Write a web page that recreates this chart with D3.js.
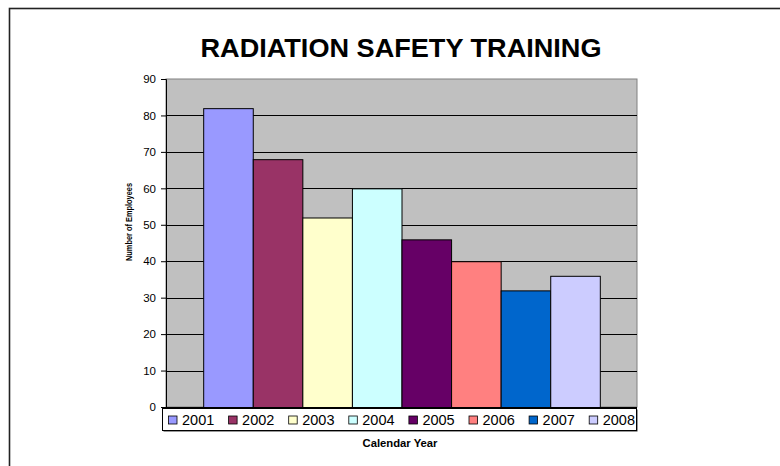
<!DOCTYPE html>
<html><head><meta charset="utf-8">
<script src="https://cdn.jsdelivr.net/npm/d3@7"></script>
<style>body{margin:0;background:#fff}svg{display:block}text{font-family:"Liberation Sans",Arial,sans-serif}</style>
</head><body>
<script>
const title = "RADIATION SAFETY TRAINING";
const years = ["2001","2002","2003","2004","2005","2006","2007","2008"];
const values = [82, 68, 52, 60, 46, 40, 32, 36];
const colors = ["#9999FF","#993366","#FFFFCC","#CCFFFF","#660066","#FF8080","#0066CC","#CCCCFF"];
const yTicks = [0,10,20,30,40,50,60,70,80,90];
const xTitle = "Calendar Year";
const yTitle = "Number of Employees";

const W = 780, H = 466;
const plot = {l:166, r:637, t:79, b:407};
const svg = d3.select("body").append("svg").attr("width", W).attr("height", H);

// outer frame
svg.append("rect").attr("x",9.5).attr("y",8.5).attr("width",900).attr("height",600)
  .attr("fill","none").attr("stroke","#222").attr("stroke-width",1.6);

// title
svg.append("text").attr("x",401).attr("y",57).attr("text-anchor","middle")
  .attr("font-size",26).attr("font-weight","bold")
  .attr("textLength",401).attr("lengthAdjust","spacingAndGlyphs").text(title);

const y = d3.scaleLinear().domain([0,90]).range([plot.b, plot.t]);
const x0 = d3.scaleBand().domain(["all"]).range([plot.l, plot.r]).paddingInner(0).paddingOuter(0.09375);
const x1 = d3.scaleBand().domain(years).range([0, x0.bandwidth()]).padding(0);

// plot area
svg.append("rect").attr("x",plot.l).attr("y",plot.t).attr("width",plot.r-plot.l).attr("height",plot.b-plot.t)
  .attr("fill","#C0C0C0").attr("stroke","#808080").attr("stroke-width",1);

// gridlines
svg.append("g").selectAll("line").data(yTicks.filter(d=>d>0 && d<90)).join("line")
  .attr("x1",plot.l).attr("x2",plot.r).attr("y1",d=>Math.round(y(d))+0.5).attr("y2",d=>Math.round(y(d))+0.5)
  .attr("stroke","#000").attr("stroke-width",1);

// bars
svg.append("g").selectAll("rect").data(years).join("rect")
  .attr("x",(d)=>x0("all")+x1(d)+0.5)
  .attr("y",(d,i)=>y(values[i])+0.5)
  .attr("width",x1.bandwidth())
  .attr("height",(d,i)=>plot.b - y(values[i]))
  .attr("fill",(d,i)=>colors[i]).attr("stroke","#000").attr("stroke-width",1);

// y axis
const yAxis = d3.axisLeft(y).tickValues(yTicks).tickSize(5).tickPadding(5);
const gy = svg.append("g").attr("transform",`translate(${plot.l},0)`).call(yAxis);
gy.select(".domain").attr("stroke","#000");
gy.selectAll(".tick line").attr("stroke","#000");
gy.selectAll("text").attr("font-size",11.5).attr("fill","#000").attr("font-family","'Liberation Sans',Arial,sans-serif");

// x axis baseline
svg.append("line").attr("x1",plot.l).attr("x2",plot.r).attr("y1",plot.b+0.5).attr("y2",plot.b+0.5).attr("stroke","#000");

// y title
svg.append("text").attr("transform",`translate(132,222) rotate(-90)`).attr("text-anchor","middle")
  .attr("font-size",9.5).attr("font-weight","bold")
  .attr("textLength",78).attr("lengthAdjust","spacingAndGlyphs").text(yTitle);

// legend
const lg = svg.append("g");
const lx = 162, ly = 408, lw = 474, lh = 22;
lg.append("rect").attr("x",lx+1.5).attr("y",ly+1.5).attr("width",lw).attr("height",lh).attr("fill","#333");
lg.append("rect").attr("x",lx+0.5).attr("y",ly+0.5).attr("width",lw).attr("height",lh).attr("fill","#fff").attr("stroke","#000");
const item = lg.selectAll("g.item").data(years).join("g").attr("class","item")
  .attr("transform",(d,i)=>`translate(${168.5+i*60.1},0)`);
item.append("rect").attr("x",0).attr("y",416).attr("width",8.5).attr("height",8).attr("fill",(d,i)=>colors[i]).attr("stroke","#000").attr("stroke-width",0.8);
item.append("text").attr("x",13.5).attr("y",424.5).attr("font-size",14.5).text(d=>d);

// x title
svg.append("text").attr("x",400).attr("y",447).attr("text-anchor","middle")
  .attr("font-size",10.5).attr("font-weight","bold")
  .attr("textLength",75).attr("lengthAdjust","spacingAndGlyphs").text(xTitle);
</script>
</body></html>
